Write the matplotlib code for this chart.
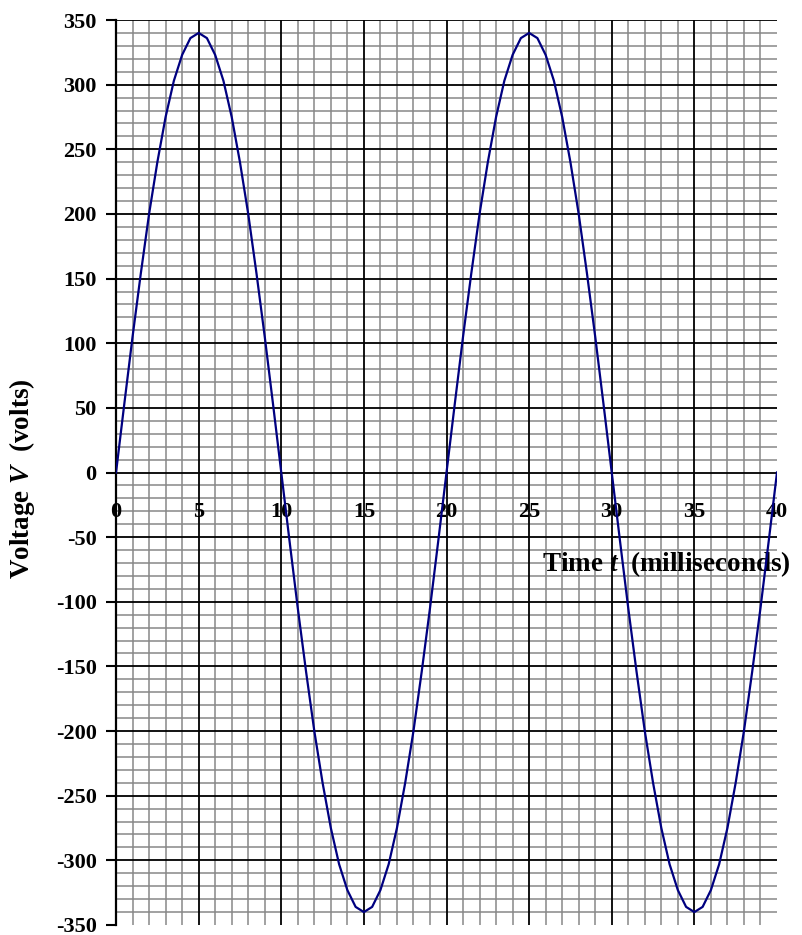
import matplotlib.pyplot as plt

# time in ms, voltage in volts (every 0.5 ms)
t = [i * 0.5 for i in range(81)]
v = [0, 53, 105, 154, 200, 240, 275, 303, 323, 336,
     340, 336, 323, 303, 275, 240, 200, 154, 105, 53,
     0, -53, -105, -154, -200, -240, -275, -303, -323, -336,
     -340, -336, -323, -303, -275, -240, -200, -154, -105, -53,
     0, 53, 105, 154, 200, 240, 275, 303, 323, 336,
     340, 336, 323, 303, 275, 240, 200, 154, 105, 53,
     0, -53, -105, -154, -200, -240, -275, -303, -323, -336,
     -340, -336, -323, -303, -275, -240, -200, -154, -105, -53,
     0]

x_labels = [0, 5, 10, 15, 20, 25, 30, 35, 40]
y_labels = list(range(-350, 351, 50))
minor_x = [x for x in range(1, 40) if x % 5]
major_x = list(range(5, 40, 5))
minor_y = [y for y in range(-340, 341, 10) if y % 50]
major_y = list(range(-300, 351, 50))

plt.rcParams['font.family'] = ['Liberation Serif', 'DejaVu Serif']
plt.rcParams['font.weight'] = 'bold'
plt.rcParams['mathtext.fontset'] = 'custom'
plt.rcParams['mathtext.it'] = 'Liberation Serif:italic:bold'
plt.rcParams['mathtext.rm'] = 'Liberation Serif:bold'

fig = plt.figure(figsize=(8.03, 9.35), dpi=100)
ax = fig.add_axes([0.1445, 0.0107, 0.8231, 0.9679])
ax.set_xlim(0, 40)
ax.set_ylim(-350, 350)

ax.vlines(minor_x, -350, 350, color='#878787', lw=1.1, zorder=1)
ax.hlines(minor_y, 0, 40, color='#878787', lw=1.1, zorder=1)
ax.vlines(major_x, -350, 350, color='black', lw=1.3, zorder=2)
ax.hlines(major_y, 0, 40, color='black', lw=1.3, zorder=2)

ax.plot(t, v, color='#000080', lw=1.6, zorder=5)

for s in ['top', 'right', 'bottom']:
    ax.spines[s].set_visible(False)
ax.spines['left'].set_linewidth(1.6)
ax.spines['left'].set_zorder(4)

ax.set_yticks(y_labels)
ax.set_yticklabels([str(y) for y in y_labels], fontsize=16, fontweight='bold')
ax.tick_params(axis='y', length=7, width=1.5, pad=7)
ax.set_xticks([])

for x in x_labels:
    ax.text(x, -23, str(x), ha='center', va='top', fontsize=16,
            fontweight='bold', clip_on=False, zorder=4)

ax.text(33.3, -71, 'Time $t$  (milliseconds)', ha='center', va='center',
        fontsize=19.5, fontweight='bold', clip_on=False, zorder=4)
fig.text(0.028, 0.488, 'Voltage $V$  (volts)', rotation=90,
         ha='center', va='center', fontsize=19.5, fontweight='bold')

fig.savefig('out.png', dpi=100)
